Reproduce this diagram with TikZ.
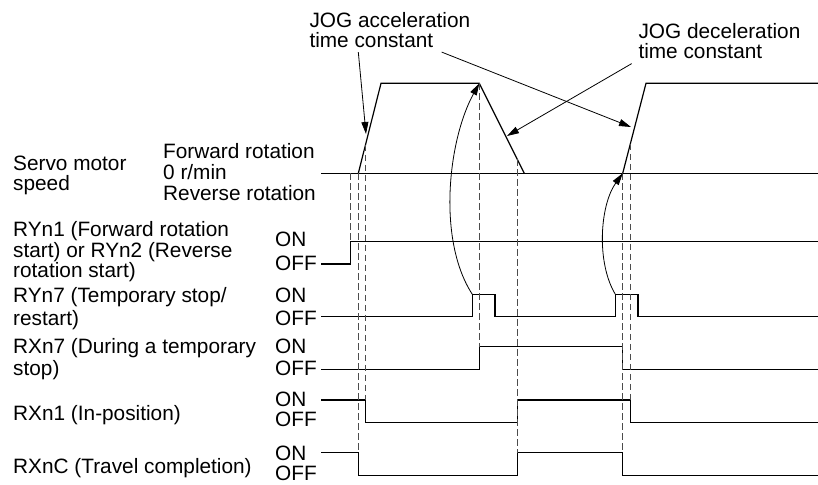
\documentclass[tikz,border=0pt]{standalone}
\usepackage{fontspec}
\setmainfont{Liberation Sans}
\usetikzlibrary{arrows.meta}
\tikzset{
  sig/.style={line width=1.2pt,line join=miter},
  guide/.style={line width=0.9pt,black!70,dash pattern=on 6.5pt off 3.5pt},
  lbl/.style={anchor=base west,inner sep=0pt,align=left},
  pointer/.style={line width=0.8pt,-{Triangle[length=12pt,width=7pt]}},
}
\begin{document}
\begin{tikzpicture}[x=1pt,y=-1pt,every node/.style={font=\fontsize{20.8}{20.3}\selectfont}]
\useasboundingbox (0,0) rectangle (818,484);
% Row labels (multi-line labels sit on their last line)
\node[lbl] (spdLbl) at (13,190.5) {Servo motor\\speed};
\node[lbl] (fwdLbl) at (163,158.5) {Forward rotation};
\node[lbl] (zeroLbl) at (163,179.5) {0 r/min};
\node[lbl] (revLbl) at (163,200.5) {Reverse rotation};
\node[lbl] (ryStLbl) at (13,277.5) {RYn1 (Forward rotation\\start) or RYn2 (Reverse\\rotation start)};
\node[lbl] (ryTsLbl) at (13,325.5) {RYn7 (Temporary stop/\\[2.5pt]restart)};
\node[lbl] (rxTsLbl) at (13,375.5) {RXn7 (During a temporary\\[1.5pt]stop)};
\node[lbl] (rxInLbl) at (13,420.5) {RXn1 (In-position)};
\node[lbl] (rxTcLbl) at (13,473.5) {RXnC (Travel completion)};
% ON / OFF levels
\node[lbl] (on1) at (275,246.5) {ON};  \node[lbl] (off1) at (275,270.5) {OFF};
\node[lbl] (on2) at (275,302.5) {ON};  \node[lbl] (off2) at (275,325.5) {OFF};
\node[lbl] (on3) at (275,353.5) {ON};  \node[lbl] (off3) at (275,375.5) {OFF};
\node[lbl] (on4) at (275,406.5) {ON};  \node[lbl] (off4) at (275,426.5) {OFF};
\node[lbl] (on5) at (275,460.5) {ON};  \node[lbl] (off5) at (275,480.5) {OFF};
% Speed waveform
\coordinate (acc1) at (358.3,173.3);
\coordinate (top1) at (479.3,83.3);
\coordinate (acc2) at (622.7,173.3);
\draw[sig] (321,173.3) -- (818,173.3);
\draw[sig] (acc1) -- (381,83.3) -- (top1) -- (524.3,173.3);
\draw[sig] (acc2) -- (646,83.3) -- (818,83.3);
% Signals
\draw[sig] (321,264) -- (350.7,264) -- (350.7,241.3) -- (818,241.3);
\draw[sig] (321,316.7) -- (472.3,316.7) -- (472.3,294.3) coordinate (stop1) -- (495,294.3) -- (495,316.7)
  -- (615.3,316.7) -- (615.3,294.3) coordinate (stop2) -- (638,294.3) -- (638,316.7) -- (818,316.7);
\draw[sig] (321,369.3) -- (479.3,369.3) -- (479.3,346.7) -- (622.7,346.7) -- (622.7,369.3) -- (818,369.3);
\draw[sig] (321,400) -- (365.5,400) -- (365.5,422.7) -- (517.3,422.7) -- (517.3,400) -- (630.3,400) -- (630.3,422.7) -- (818,422.7);
\draw[sig] (321,452.7) -- (358.3,452.7) -- (358.3,475.3) -- (517.3,475.3) -- (517.3,452.7) -- (622.7,452.7) -- (622.7,475.3) -- (818,475.3);
% Timing guides
\draw[guide] (350.7,173.3) -- (350.7,241.3);
\draw[guide] (358.3,173.3) -- (358.3,452.7);
\draw[guide] (365.5,144.8) -- (365.5,400);
\draw[guide] (479.3,83.3) -- (479.3,346.7);
\draw[guide] (517.3,159.3) -- (517.3,452.7);
\draw[guide] (622.7,173.3) -- (622.7,452.7);
\draw[guide] (630.3,143.9) -- (630.3,400);
% Time constant callouts
\node[lbl] (accLbl) at (309.3,47.5) {JOG acceleration\\time constant};
\node[lbl] (decLbl) at (638.3,59) {JOG deceleration\\time constant};
\coordinate (accTip1) at (366,134);
\coordinate (accTip2) at (631,127);
\coordinate (decTip) at (507,136);
\draw[pointer] ([xshift=49pt,yshift=-4.2pt]accLbl.south west) -- (accTip1);
\draw[pointer] ([xshift=132.4pt,yshift=-4.2pt]accLbl.south west) -- (accTip2);
\draw[pointer] ([xshift=-6.6pt,yshift=-4.2pt]decLbl.south west) -- (decTip);
% Restart effect
\draw[pointer] (stop1) .. controls (437,240) and (448,140) .. (top1);
\draw[pointer] (stop2) .. controls (596,262) and (600,205) .. (acc2);
\end{tikzpicture}
\end{document}
